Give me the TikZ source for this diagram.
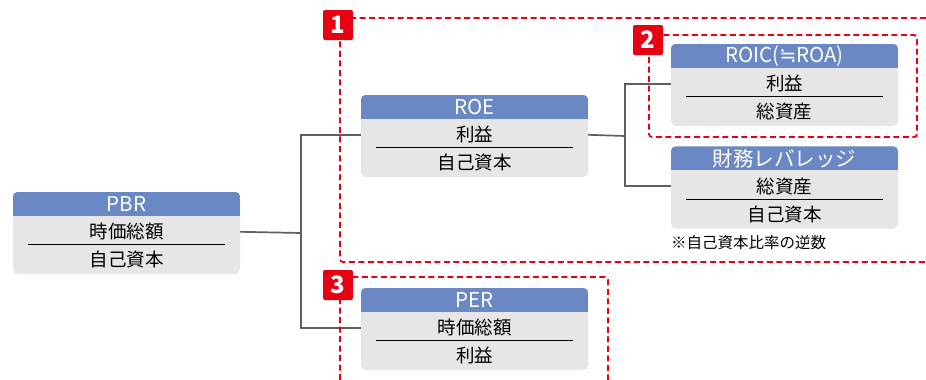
\documentclass[tikz,border=0pt]{standalone}
\usepackage{fontspec}
\setmainfont{Noto Sans CJK JP}
\newfontfamily\symfont{DejaVu Sans}
\definecolor{headblue}{HTML}{6A88C4}
\definecolor{bodygray}{HTML}{E6E6E6}
\definecolor{markred}{HTML}{E60012}
\definecolor{linkgray}{HTML}{5F5F5F}
\begin{document}
\begin{tikzpicture}[x=1pt, y=-1pt,
  body/.style={fill=bodygray, rounded corners=5pt, minimum width=227pt,
    minimum height=82pt, inner sep=0pt},
  head/.style={text=white, inner sep=0pt, font=\fontsize{20.5}{20.5}\selectfont},
  row/.style={text=black, inner sep=0pt, font=\fontsize{18.5}{18.5}\selectfont},
  divider/.style={black, line width=0.8pt},
  link/.style={linkgray, line width=1.7pt},
  zone/.style={markred, line width=1.8pt, dash pattern=on 6pt off 3.5pt,
    rounded corners=3pt},
  badge/.style={fill=markred, text=white, rounded corners=2pt, minimum size=30pt,
    inner sep=0pt, font=\bfseries\fontsize{24}{24}\selectfont}]
  \useasboundingbox (0,0) rectangle (926,380);

  % ratio boxes
  \foreach \n/\x/\y/\h/\a/\b in {
    pbr/126.5/233/PBR/時価総額/自己資本,
    roe/474.5/136/ROE/利益/自己資本,
    roic/784.5/85/ROIC({\symfont ≒}ROA)/利益/総資産,
    lev/784.5/187.5/財務レバレッジ/総資産/自己資本,
    per/474.5/329/PER/時価総額/利益}
  {
    \node[body] (\n) at (\x,\y) {};
    \begin{scope}
      \clip[rounded corners=5pt] (\n.south west) rectangle (\n.north east);
      \fill[headblue] (\n.north west) rectangle ([yshift=-24pt]\n.north east);
    \end{scope}
    \node[head] (\n-head) at ([yshift=-12pt]\n.north) {\h};
    \node[row] (\n-num) at ([yshift=-40pt]\n.north) {\a};
    \node[row] (\n-den) at ([yshift=-68pt]\n.north) {\b};
    \draw[divider] ([xshift=15pt,yshift=-53pt]\n.north west)
      -- ([xshift=-15pt,yshift=-53pt]\n.north east);
  }

  % tree links
  \coordinate (fork1) at (301,233);
  \coordinate (fork2) at (625,136);
  \draw[link] (pbr.east |- pbr-num) -- (fork1);
  \draw[link] (fork1) |- (roe.west |- roe-num);
  \draw[link] (fork1) |- (per.west |- per-num);
  \draw[link] (roe.east |- roe-num) -- (fork2);
  \draw[link] (fork2) |- (roic.west |- roic-num);
  \draw[link] (fork2) |- (lev.west |- lev-num);

  \node[anchor=west, inner sep=0pt, font=\fontsize{15.5}{15.5}\selectfont]
    (levnote) at (671,243) {※自己資本比率の逆数};

  % dashed zones
  \draw[zone] (926,18) -- (340,18) -- (340,262) -- (926,262);
  \draw[zone] (649,35) rectangle (917,137);
  \draw[zone] (340,380) -- (340,277) -- (608,277) -- (608,380);

  \node[badge] (badge1) at (338,25) {1};
  \node[badge] (badge2) at (648,40) {2};
  \node[badge] (badge3) at (338,285) {3};
\end{tikzpicture}
\end{document}
